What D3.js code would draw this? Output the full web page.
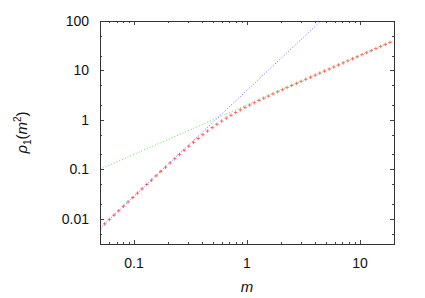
<!DOCTYPE html>
<html>
<head>
<meta charset="utf-8">
<script src="https://cdn.jsdelivr.net/npm/d3@7"></script>
<style>
  body { margin: 0; background: #fff; }
  svg { display: block; font-family: "Liberation Sans", Arial, sans-serif; }
</style>
</head>
<body>
<div id="chart"></div>
<script>
// sampled points (red +)
const mValues = [0.05, 0.055, 0.0605, 0.06655, 0.07321, 0.08053, 0.08858, 0.09744, 0.1072, 0.1179,
  0.1297, 0.1427, 0.1569, 0.1726, 0.1899, 0.2089, 0.2297, 0.2527, 0.2780, 0.3058,
  0.3364, 0.3700, 0.4070, 0.4477, 0.4925, 0.5417, 0.5959, 0.6555, 0.7211, 0.7932,
  0.8725, 0.9597, 1.0557, 1.1613, 1.2774, 1.4052, 1.5457, 1.7003, 1.8703, 2.0573,
  2.2631, 2.4894, 2.7383, 3.0121, 3.3134, 3.6447, 4.0092, 4.4101, 4.8511, 5.3362,
  5.8699, 6.4568, 7.1025, 7.8128, 8.5941, 9.4535, 10.399, 11.439, 12.583, 13.841,
  15.225, 16.747, 18.422];
const rhoValues = [0.00639, 0.00784, 0.00962, 0.0118, 0.01448, 0.01776, 0.02179, 0.02671, 0.03275, 0.04015,
  0.04915, 0.06018, 0.07368, 0.09009, 0.1100, 0.1343, 0.1635, 0.1988, 0.2410, 0.2912,
  0.3504, 0.4200, 0.5003, 0.5925, 0.6966, 0.8135, 0.9428, 1.0844, 1.2392, 1.4068,
  1.587, 1.782, 1.993, 2.222, 2.469, 2.737, 3.029, 3.348, 3.697, 4.077,
  4.495, 4.953, 5.456, 6.006, 6.611, 7.275, 8.004, 8.810, 9.694, 10.66,
  11.74, 12.91, 14.20, 15.63, 17.19, 18.91, 20.80, 22.88, 25.16, 27.68,
  30.45, 33.49, 36.84];

// asymptotes (straight on log-log), end points
const blueLine = [[0.05, 0.0064], [4.5, 100]];
const greenLine = [[0.05, 0.1], [20, 40]];

const xTicks = [0.1, 1, 10];
const yTicks = [0.01, 0.1, 1, 10, 100];
const xTickLabels = ['0.1', '1', '10'];
const yTickLabels = ['0.01', '0.1', '1', '10', '100'];

const width = 425, height = 298;
const margin = {left: 100, right: 31, top: 21, bottom: 54};
const iw = width - margin.left - margin.right;
const ih = height - margin.top - margin.bottom;

const svg = d3.select('#chart').append('svg')
  .attr('width', width).attr('height', height);

const x = d3.scaleLog().domain([0.05, 20]).range([0, iw]);
const y = d3.scaleLog().domain([0.00307, 100]).range([ih, 0]);

const g = svg.append('g').attr('transform', `translate(${margin.left},${margin.top})`);

svg.append('defs').append('clipPath').attr('id', 'clip')
  .append('rect').attr('width', iw).attr('height', ih);

// minor ticks
const xMinor = [];
[0.01, 0.1, 1, 10].forEach(d => { for (let k = 2; k <= 9; k++) { const v = d * k; if (v > 0.05 && v < 20) xMinor.push(v); } });
const yMinor = [];
[0.001, 0.01, 0.1, 1, 10].forEach(d => { [2, 5].forEach(k => { const v = d * k; if (v > 0.00307 && v < 100) yMinor.push(v); }); });

const ticks = g.append('g').attr('stroke', '#444').attr('stroke-width', 1);
function vTicks(vals, len) {
  vals.forEach(v => {
    const px = Math.round(x(v)) + 0.5;
    ticks.append('line').attr('x1', px).attr('x2', px).attr('y1', ih).attr('y2', ih - len);
    ticks.append('line').attr('x1', px).attr('x2', px).attr('y1', 0).attr('y2', len);
  });
}
function hTicks(vals, len) {
  vals.forEach(v => {
    const py = Math.round(y(v)) + 0.5;
    ticks.append('line').attr('y1', py).attr('y2', py).attr('x1', 0).attr('x2', len);
    ticks.append('line').attr('y1', py).attr('y2', py).attr('x1', iw).attr('x2', iw - len);
  });
}
vTicks(xTicks, 4); vTicks(xMinor, 2);
hTicks(yTicks, 4); hTicks(yMinor, 2);

// tick labels
g.selectAll('text.xl').data(xTicks).join('text')
  .attr('x', d => x(d)).attr('y', ih + 24)
  .attr('text-anchor', 'middle').attr('font-size', 14).attr('fill', '#111')
  .text((d, i) => xTickLabels[i]);
g.selectAll('text.yl').data(yTicks).join('text')
  .attr('x', -11).attr('y', d => y(d) + 5)
  .attr('text-anchor', 'end').attr('font-size', 14).attr('fill', '#111')
  .text((d, i) => yTickLabels[i]);

// lines
const line = d3.line().x(d => x(d[0])).y(d => y(d[1]));
const plot = g.append('g').attr('clip-path', 'url(#clip)');

// red + markers
const pts = mValues.map((m, i) => [m, rhoValues[i]]);
const s = 1.8;
plot.selectAll('path.pt').data(pts).join('path')
  .attr('d', d => {
    const px = x(d[0]), py = y(d[1]);
    return `M${px - s},${py}H${px + s}M${px},${py - s}V${py + s}`;
  })
  .attr('stroke', '#ff4040').attr('stroke-opacity', 0.8).attr('stroke-width', 0.9).attr('fill', 'none');

plot.append('path').datum(greenLine).attr('d', line)
  .attr('fill', 'none').attr('stroke', '#66e066').attr('stroke-width', 1)
  .attr('stroke-dasharray', '1,2');
plot.append('path').datum(blueLine).attr('d', line)
  .attr('fill', 'none').attr('stroke', '#6a6aff').attr('stroke-width', 1)
  .attr('stroke-dasharray', '1,2');

// frame
g.append('rect').attr('x', 0.5).attr('y', 0.5).attr('width', iw).attr('height', ih)
  .attr('fill', 'none').attr('stroke', '#333').attr('stroke-width', 1);

// axis titles
svg.append('text').attr('x', margin.left + x(1)).attr('y', 292)
  .attr('text-anchor', 'middle').attr('font-size', 15).attr('font-style', 'italic')
  .attr('fill', '#111').text('m');

const yt = svg.append('text')
  .attr('transform', `translate(27,${margin.top + ih / 2}) rotate(-90)`)
  .attr('text-anchor', 'middle').attr('font-size', 15).attr('fill', '#111');
yt.append('tspan').attr('font-style', 'italic').text('ρ');
yt.append('tspan').attr('font-size', 10).attr('dy', 4).text('1');
yt.append('tspan').attr('dy', -4).text('(');
yt.append('tspan').attr('font-style', 'italic').text('m');
yt.append('tspan').attr('font-size', 10).attr('dy', -6).text('2');
yt.append('tspan').attr('dy', 6).text(')');
</script>
</body>
</html>
